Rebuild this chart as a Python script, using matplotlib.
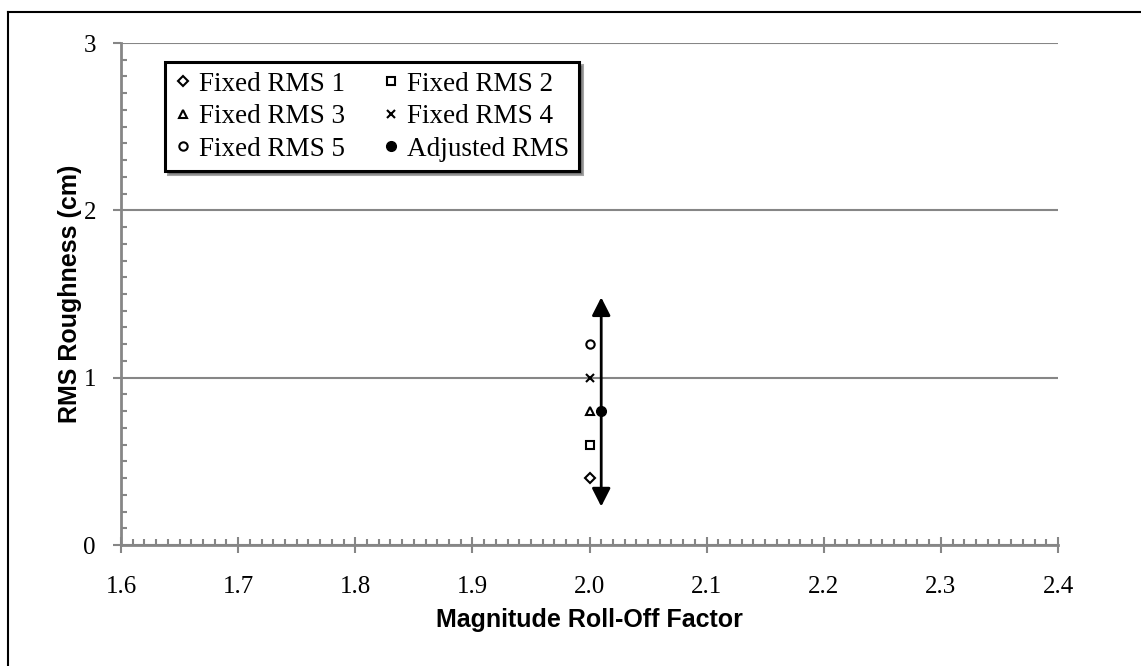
import matplotlib
matplotlib.use('Agg')
import matplotlib.pyplot as plt
from matplotlib.lines import Line2D
from matplotlib.ticker import MultipleLocator

# data
labels = ['Fixed RMS 1', 'Fixed RMS 2', 'Fixed RMS 3', 'Fixed RMS 4', 'Fixed RMS 5']
markers = ['D', 's', '^', 'x', 'o']
fixed_x = [2.0, 2.0, 2.0, 2.0, 2.0]
fixed_y = [0.4, 0.6, 0.8, 1.0, 1.2]
adj_x = 2.01
adj_y = 0.8
adj_low = 0.23
adj_high = 1.48

serif = 'Liberation Serif'
sans = 'Liberation Sans'
grey = '#868686'

fig = plt.figure(figsize=(11.41, 6.66), dpi=100)
ax = fig.add_axes([121/1141, 1 - 545/666, 937/1141, 502/666])

# arrow range for adjusted RMS
ax.annotate('', xy=(adj_x, adj_high), xytext=(adj_x, adj_low),
            arrowprops=dict(arrowstyle='<|-|>,head_length=0.55,head_width=0.28',
                            color='black', lw=2, mutation_scale=20,
                            shrinkA=0, shrinkB=0), zorder=3)

handles = {}
for lab, m, x, y in zip(labels, markers, fixed_x, fixed_y):
    size = 5 if m != 'D' else 4
    if m == 'x':
        h, = ax.plot([x], [y], m, color='black', ms=6, mew=1.5, ls='none', zorder=4)
    else:
        h, = ax.plot([x], [y], m, mfc='white', mec='black', ms=size + 1, mew=1.5,
                     ls='none', zorder=4)
    handles[lab] = h
h_adj, = ax.plot([adj_x], [adj_y], 'o', color='black', ms=7, ls='none', zorder=5)
handles['Adjusted RMS'] = h_adj

ax.set_xlim(1.6, 2.4)
ax.set_ylim(0, 3)
ax.xaxis.set_major_locator(MultipleLocator(0.1))
ax.xaxis.set_minor_locator(MultipleLocator(0.01))
ax.yaxis.set_major_locator(MultipleLocator(1))
ax.yaxis.set_minor_locator(MultipleLocator(0.1))
ax.set_xticks([1.6, 1.7, 1.8, 1.9, 2.0, 2.1, 2.2, 2.3, 2.4])
ax.set_xticklabels(['1.6', '1.7', '1.8', '1.9', '2.0', '2.1', '2.2', '2.3', '2.4'])
ax.set_yticks([0, 1, 2, 3])
ax.set_yticklabels(['0', '1', '2', '3'])

ax.grid(axis='y', which='major', color=grey, lw=1.5)
ax.set_axisbelow(True)
for s in ['top', 'right']:
    ax.spines[s].set_visible(False)
for s in ['left', 'bottom']:
    ax.spines[s].set_color(grey)
    ax.spines[s].set_linewidth(2)

ax.tick_params(axis='x', which='major', direction='inout', length=11, width=1.5,
               color=grey, pad=17, labelsize=18)
ax.tick_params(axis='x', which='minor', direction='in', length=4, width=1.5, color=grey)
ax.tick_params(axis='y', which='major', direction='out', length=6, width=1.5,
               color=grey, pad=12, labelsize=18)
ax.tick_params(axis='y', which='minor', direction='in', length=4, width=1.5, color=grey)
for t in ax.get_xticklabels() + ax.get_yticklabels():
    t.set_fontfamily(serif)

ax.set_xlabel('Magnitude Roll-Off Factor', fontsize=18, fontweight='bold',
              fontfamily=sans, labelpad=7)
ax.set_ylabel('RMS Roughness (cm)', fontsize=18, fontweight='bold',
              fontfamily=sans, labelpad=1)

order = ['Fixed RMS 1', 'Fixed RMS 3', 'Fixed RMS 5',
         'Fixed RMS 2', 'Fixed RMS 4', 'Adjusted RMS']
leg = ax.legend([handles[k] for k in order], order, ncol=2, loc='upper left',
                bbox_to_anchor=(0.047, 0.962), prop={'family': serif, 'size': 19.5},
                frameon=True, fancybox=False, shadow=True, handlelength=0.6,
                handletextpad=0.3, columnspacing=1.4, labelspacing=0.28,
                borderpad=0.35, borderaxespad=0)
leg.get_frame().set_edgecolor('black')
leg.get_frame().set_linewidth(2.2)

# outer chart border
fig.add_artist(Line2D([8/1141, 8/1141], [0, 1 - 12/666], color='black', lw=1.5,
                      transform=fig.transFigure))
fig.add_artist(Line2D([8/1141, 1], [1 - 12/666, 1 - 12/666], color='black', lw=1.5,
                      transform=fig.transFigure))

fig.savefig('out.png', dpi=100)
